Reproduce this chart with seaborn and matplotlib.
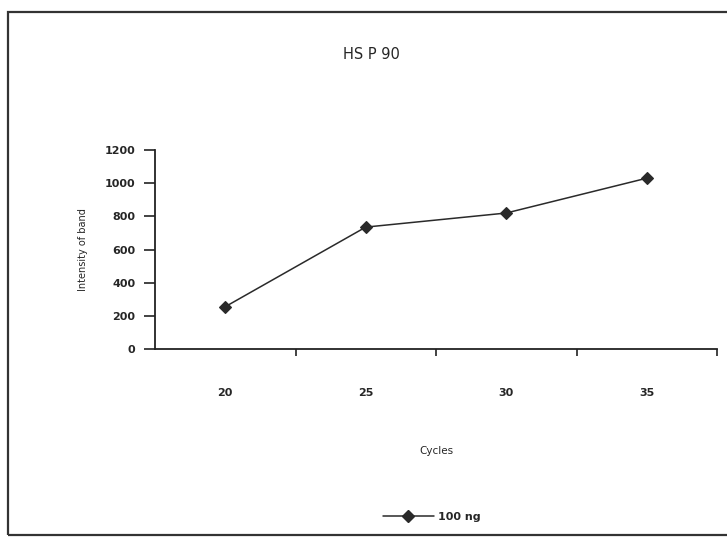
import matplotlib
matplotlib.use("Agg")
import matplotlib.pyplot as plt
import seaborn as sns
import pandas as pd
from matplotlib.patches import Rectangle
from matplotlib.lines import Line2D

cycles = ["20", "25", "30", "35"]
intensity = [255, 735, 820, 1030]
series_name = "100 ng"
y_ticks = [0, 200, 400, 600, 800, 1000, 1200]

sns.set_theme(style="white")
plt.rcParams['font.family'] = ['DejaVu Sans']

df = pd.DataFrame({"Cycles": cycles, "Intensity": intensity, "series": series_name})

fig = plt.figure(figsize=(7.27, 5.38), dpi=100)
fig.patch.set_facecolor("white")

# outer chart frame
fig.add_artist(Rectangle((8/727, 1 - 535/538), 730/727, (535-12)/538, transform=fig.transFigure,
                         fill=False, edgecolor="#333333", linewidth=1.6))

ax = fig.add_axes([155/727, 1 - 349/538, (717-155)/727, (349-150)/538])
sns.pointplot(data=df, x="Cycles", y="Intensity", order=cycles, ax=ax,
              color="#2a2a2a", markers="D", markersize=6, linewidth=1.1, legend=False)

ax.set_ylim(0, 1200)
ax.set_xlim(-0.5, 3.5)
ax.set_yticks(y_ticks)
ax.set_yticklabels([str(v) for v in y_ticks], fontsize=8, fontweight="bold")
ax.set_xticks(range(len(cycles)))
ax.set_xticklabels(cycles, fontsize=8, fontweight="bold")
ax.tick_params(axis="x", length=0, pad=28)
ax.tick_params(axis="y", direction="out", length=8, width=1.2, pad=6, left=True, color="#222222")
ax.set_xticks([0.5, 1.5, 2.5, 3.5], minor=True)
ax.tick_params(axis="x", which="minor", direction="out", length=5, width=1.2, bottom=True, color="#222222")

for s in ["top", "right"]:
    ax.spines[s].set_visible(False)
for s in ["left", "bottom"]:
    ax.spines[s].set_color("#222222")
    ax.spines[s].set_linewidth(1.3)

ax.set_xlabel("Cycles", fontsize=7.5, labelpad=35)
ax.set_ylabel("Intensity of band", fontsize=7, labelpad=12)
ax.set_facecolor("white")
ax.grid(False)

fig.text(371/727, 1 - 55/538, "HS P 90", ha="center", va="center", fontsize=10.5)

handle = Line2D([], [], color="#2a2a2a", marker="D", markersize=6, linewidth=1.1)
fig.legend([handle], [series_name], loc="center", bbox_to_anchor=(432/727, 1 - 517/538),
           frameon=False, prop={"size": 8, "weight": "bold"}, handlelength=4.6, handletextpad=0.4)

fig.savefig("out.png", dpi=100)
